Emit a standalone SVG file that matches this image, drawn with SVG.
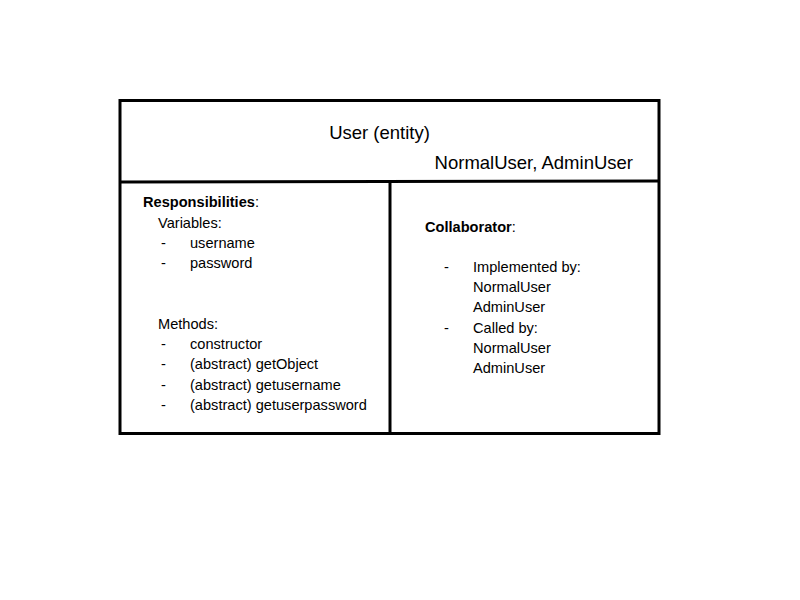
<svg xmlns="http://www.w3.org/2000/svg" width="800" height="600" viewBox="0 0 800 600">
<style>
text{font-family:"Liberation Sans",Arial,sans-serif;fill:#000}
.t{font-size:18.5px}
.b{font-size:14.6px}
.bold{font-weight:bold}
.ln{stroke:#000;stroke-width:3;fill:none}
</style>
<rect width="800" height="600" fill="#fff"/>
<g id="card">
<rect class="ln" x="120" y="100.5" width="539" height="333"/>
<line class="ln" x1="120" y1="182" x2="659" y2="181"/>
<line class="ln" x1="390" y1="182" x2="390" y2="434"/>
</g>
<g id="header">
<text class="t" x="379.5" y="139" text-anchor="middle">User (entity)</text>
<text class="t" x="633" y="169" text-anchor="end">NormalUser, AdminUser</text>
</g>
<g id="responsibilities" class="b">
<text class="b" x="143" y="207"><tspan class="bold">Responsibilities</tspan>:</text>
<text class="b" x="158" y="228">Variables:</text>
<text class="b" x="161" y="248">-</text><text class="b" x="190" y="248">username</text>
<text class="b" x="161" y="268">-</text><text class="b" x="190" y="268">password</text>
<text class="b" x="158" y="329">Methods:</text>
<text class="b" x="161" y="349">-</text><text class="b" x="190" y="349">constructor</text>
<text class="b" x="161" y="369">-</text><text class="b" x="190" y="369">(abstract) getObject</text>
<text class="b" x="161" y="390">-</text><text class="b" x="190" y="390">(abstract) getusername</text>
<text class="b" x="161" y="410">-</text><text class="b" x="190" y="410">(abstract) getuserpassword</text>
</g>
<g id="collaborator">
<text class="b" x="425" y="232"><tspan class="bold">Collaborator</tspan>:</text>
<text class="b" x="444" y="272">-</text><text class="b" x="473" y="272">Implemented by:</text>
<text class="b" x="473" y="292">NormalUser</text>
<text class="b" x="473" y="312">AdminUser</text>
<text class="b" x="444" y="333">-</text><text class="b" x="473" y="333">Called by:</text>
<text class="b" x="473" y="353">NormalUser</text>
<text class="b" x="473" y="373">AdminUser</text>
</g>
</svg>
